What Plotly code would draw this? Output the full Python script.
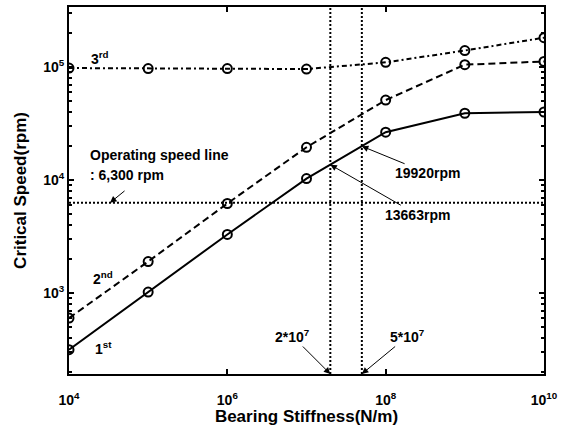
import plotly.graph_objects as go
import math

stiffness = [1e4, 1e5, 1e6, 1e7, 1e8, 1e9, 1e10]
mode1 = [315, 1020, 3300, 10300, 26500, 39000, 40000]
mode2 = [600, 1900, 6200, 19500, 51000, 105000, 112000]
mode3 = [98000, 97000, 97000, 96000, 110000, 140000, 182000]

operating_speed = 6300
bearing_marks = [2e7, 5e7]
crit_marks = [13663, 19920]

x_range = [1e4, 1e10]
y_range = [192, 340000]

x_tickvals = [1e4, 1e6, 1e8, 1e10]
x_ticktext = ["<b>10<sup>4</sup></b>", "<b>10<sup>6</sup></b>", "<b>10<sup>8</sup></b>", "<b>10<sup>10</sup></b>"]
y_tickvals = [1e3, 1e4, 1e5]
y_ticktext = ["<b>10<sup>3</sup></b>", "<b>10<sup>4</sup></b>", "<b>10<sup>5</sup></b>"]
y_minor = [m * 10 ** k for k in range(2, 6) for m in range(2, 10)]

FF = "Liberation Sans, Arial"
fig = go.Figure()

mk = dict(symbol="circle-open", size=9, color="black", line=dict(width=2, color="black"))
fig.add_trace(go.Scatter(x=stiffness, y=mode3, mode="lines+markers",
                         line=dict(color="black", width=2, dash="5px,3px,2px,3px"), marker=mk))
fig.add_trace(go.Scatter(x=stiffness, y=mode2, mode="lines+markers",
                         line=dict(color="black", width=2, dash="7px,4px"), marker=mk))
fig.add_trace(go.Scatter(x=stiffness, y=mode1, mode="lines+markers",
                         line=dict(color="black", width=2, dash="solid"), marker=mk))

dot = dict(color="black", width=2, dash="2px,2px")
fig.add_trace(go.Scatter(x=x_range, y=[operating_speed] * 2, mode="lines", line=dot))
for b in bearing_marks:
    fig.add_trace(go.Scatter(x=[b, b], y=y_range, mode="lines", line=dot))

font = dict(family=FF, size=14, color="black")
lx = math.log10
ann = []
def txt(t, x, y, xa="center"):
    ann.append(dict(text="<b>%s</b>" % t, x=x, y=y, xref="paper", yref="paper",
                    xanchor=xa, yanchor="middle", showarrow=False, font=font))
txt("3<sup>rd</sup>", 0.066, 0.862)
txt("2<sup>nd</sup>", 0.072, 0.262)
txt("1<sup>st</sup>", 0.072, 0.071)
txt("Operating speed line", 0.04, 0.597, "left")
txt(": 6,300 rpm", 0.04, 0.542, "left")

def arr(t, x, y, ax, ay):
    ann.append(dict(text="<b>%s</b>" % t, x=lx(x), y=lx(y), xref="x", yref="y",
                    ax=ax, ay=ay, showarrow=True, arrowhead=2, arrowsize=1.3,
                    arrowwidth=1, arrowcolor="black", font=font))
arr("", 3.3e4, operating_speed, 16, -13)
arr("2*10<sup>7</sup>", bearing_marks[0], y_range[0], -38, -38)
arr("5*10<sup>7</sup>", bearing_marks[1], y_range[0], 46, -38)
arr("19920rpm", bearing_marks[1], crit_marks[1], 66, 27)
arr("13663rpm", bearing_marks[0], crit_marks[0], 87, 50)

axis_common = dict(showgrid=False, zeroline=False, showline=True, linecolor="black",
                   linewidth=2, mirror="ticks", ticks="inside", ticklen=5, tickwidth=1.5,
                   tickcolor="black", tickfont=dict(family=FF, size=14, color="black"))

fig.update_layout(
    width=570, height=426, margin=dict(l=69, r=26, t=7, b=52),
    paper_bgcolor="white", plot_bgcolor="white", showlegend=False,
    annotations=ann,
    xaxis=dict(type="log", range=[lx(x_range[0]), lx(x_range[1])], tickmode="array",
               tickvals=x_tickvals, ticktext=x_ticktext, automargin=False,
               ticklabelstandoff=12,
               title=dict(text="<b>Bearing Stiffness(N/m)</b>", standoff=0,
                          font=dict(family=FF, size=17, color="black")),
               **axis_common),
    yaxis=dict(type="log", range=[lx(y_range[0]), lx(y_range[1])], tickmode="array",
               tickvals=y_tickvals, ticktext=y_ticktext, automargin=False,
               minor=dict(tickmode="array", tickvals=y_minor, ticks="inside", ticklen=3,
                          tickcolor="black", showgrid=False),
               title=dict(text="<b>Critical Speed(rpm)</b>", standoff=12,
                          font=dict(family=FF, size=17, color="black")),
               **axis_common),
)

fig.write_html("out.html", config={"displayModeBar": False},
               post_script="document.body.style.margin='0';document.body.style.padding='0';")
